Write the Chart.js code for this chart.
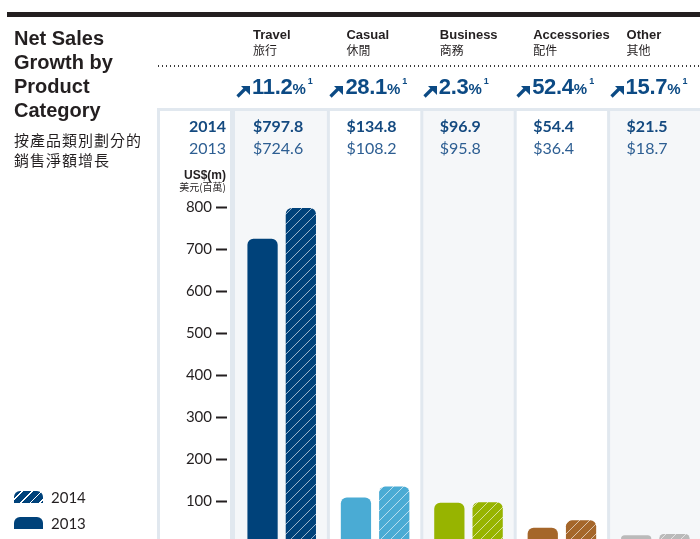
<!DOCTYPE html>
<html>
<head>
<meta charset="utf-8">
<script src="https://cdn.jsdelivr.net/npm/chart.js@4.4.1/dist/chart.umd.min.js"></script>
<style>
  html, body { margin: 0; padding: 0; background: #fff; overflow: hidden; }
  #wrap { position: relative; width: 700px; height: 539px; overflow: hidden; }
  #chart { position: absolute; left: 0; top: 0; }
  .t { position: absolute; white-space: nowrap; color: #231f20; }
  .title { left: 14px; top: 26px; font: bold 20px/24px "Liberation Sans", Arial, sans-serif; }
  .title-zh { left: 14px; top: 130px; font: 15px/20px "Noto Sans CJK TC", sans-serif; letter-spacing: 1px; }
  .topbar { position: absolute; left: 7px; top: 12px; width: 693px; height: 5px; background: #231f20; }
  .dots { position: absolute; left: 158px; top: 65px; width: 542px; height: 1.5px;
    background: repeating-linear-gradient(to right, #3a3a3a 0 1.5px, transparent 1.5px 4px); }
  .cat { font: bold 13px/13px "Liberation Sans", Arial, sans-serif; top: 28px; }
  .cat-zh { font: 12px/14px "Noto Sans CJK TC", sans-serif; top: 43px; }
  .growth { font: bold 22px/22px "Liberation Sans", Arial, sans-serif; top: 76px; color: #0c4a84; letter-spacing: -0.3px; }
  .growth .pc { font-size: 15px; letter-spacing: 0; }
  .growth .sup { font-size: 9px; position: relative; top: -10px; margin-left: 2px; }
  .arrow { position: absolute; top: 84px; }
  .v14 { font: bold 16px/16px Lato, sans-serif; top: 118px; color: #144a80; }
  .v13 { font: 16px/16px Lato, sans-serif; top: 140px; color: #2d5e92; }
  .unit { font: bold 12px/12px "Liberation Sans", Arial, sans-serif; top: 169px; }
  .unit-zh { font: 10px/12px "Noto Sans CJK TC", sans-serif; top: 181px; }
  .right { left: 0; width: 226px; text-align: right; }
  .sw { position: absolute; left: 14px; width: 29px; height: 12px; border-radius: 6px 6px 0 0; background: #00427a; }
  .sw.h { background: repeating-linear-gradient(135deg, #00427a 0 5.5px, rgba(255,255,255,0.8) 5.5px 6.8px); }
  .leg { left: 51px; font: 15px/16px Lato, sans-serif; }
</style>
</head>
<body>
<div id="wrap">
  <canvas id="chart" width="704" height="560"></canvas>
  <div class="topbar"></div>
  <div class="t title">Net Sales<br>Growth by<br>Product<br>Category</div>
  <div class="t title-zh">按產品類別劃分的<br>銷售淨額增長</div>
  <div class="dots"></div>
  <div class="t v14 right">2014</div>
  <div class="t v13 right">2013</div>
  <div class="t unit right">US$(m)</div>
  <div class="t unit-zh right">美元(百萬)</div>
  <div class="sw h" style="top:491px"></div>
  <div class="t leg" style="top:489px">2014</div>
  <div class="sw" style="top:517px"></div>
  <div class="t leg" style="top:515px">2013</div>
</div>
<script>
const categories = ['Travel', 'Casual', 'Business', 'Accessories', 'Other'];
const categoriesZh = ['旅行', '休閒', '商務', '配件', '其他'];
const sales2014 = [797.8, 134.8, 96.9, 54.4, 21.5];
const sales2013 = [724.6, 108.2, 95.8, 36.4, 18.7];
const growthPct = [11.2, 28.1, 2.3, 52.4, 15.7];
const yTicks = [100, 200, 300, 400, 500, 600, 700, 800];
const barColors = ['#00427a', '#4aabd4', '#97b400', '#a5662a', '#bababa'];

const lineColor = '#e1e8ef';
const paleBg = '#f5f7f9';

// motif hachuré pour 2014
function hatch(color) {
    const n = 10;
    const c = document.createElement('canvas');
    c.width = n; c.height = n;
    const g = c.getContext('2d');
    g.fillStyle = color;
    g.fillRect(0, 0, n, n);
    g.strokeStyle = 'rgba(255,255,255,0.6)';
    g.lineWidth = 1;
    g.beginPath();
    g.moveTo(-1, n + 1); g.lineTo(n + 1, -1);
    g.moveTo(-1, 1); g.lineTo(1, -1);
    g.moveTo(n - 1, n + 1); g.lineTo(n + 1, n - 1);
    g.stroke();
    return g.createPattern(c, 'repeat');
}

// fonds des colonnes et séparateurs
const panels = {
    id: 'panels',
    beforeDraw(chart) {
        const ctx = chart.ctx;
        ctx.save();
        ctx.fillStyle = lineColor;
        ctx.fillRect(157, 108, chart.width - 157, 3);
        ctx.fillRect(157, 108, 3, chart.height - 108);
        ctx.restore();
    },
    beforeDatasetsDraw(chart) {
        const ctx = chart.ctx;
        const x = chart.scales.x;
        const left = chart.chartArea.left;
        const slot = x.width / categories.length;
        const h = chart.height - 111;
        ctx.save();
        ctx.fillStyle = '#fff';
        ctx.fillRect(left - 8, 111, 3, h);
        ctx.fillStyle = lineColor;
        ctx.fillRect(left - 5, 111, 5, h);
        categories.forEach((c, i) => {
            const l = x.getPixelForValue(i) - slot / 2;
            ctx.fillStyle = i % 2 === 0 ? paleBg : '#fff';
            ctx.fillRect(l, 111, slot, h);
            if (i > 0) {
                ctx.fillStyle = lineColor;
                ctx.fillRect(l - 1.5, 111, 3, h);
            }
        });
        ctx.restore();
    }
};

const chart = new Chart(document.getElementById('chart'), {
    type: 'bar',
    data: {
        labels: categories,
        datasets: [{
            label: '2013',
            data: sales2013,
            backgroundColor: barColors,
            borderRadius: 6,
            borderSkipped: 'bottom',
            categoryPercentage: 0.82,
            barPercentage: 0.79
        }, {
            label: '2014',
            data: sales2014,
            backgroundColor: barColors.map(hatch),
            borderRadius: 6,
            borderSkipped: 'bottom',
            categoryPercentage: 0.82,
            barPercentage: 0.79
        }]
    },
    options: {
        responsive: false,
        animation: false,
        events: [],
        layout: { padding: { top: 207, bottom: 17, right: 2, left: 0 } },
        plugins: { legend: { display: false }, tooltip: { enabled: false } },
        scales: {
            x: { display: false },
            y: {
                min: 0,
                max: 800,
                afterFit: s => { s.width = 235; },
                afterBuildTicks: s => { s.ticks = [0].concat(yTicks).map(v => ({ value: v })); },
                border: { display: false },
                grid: { drawOnChartArea: false, drawTicks: true, tickLength: 19, tickWidth: 2, tickColor: '#231f20' },
                ticks: {
                    padding: 4,
                    color: '#231f20',
                    font: { family: 'Lato', size: 15 },
                    callback: v => v === 0 ? '' : v
                }
            }
        }
    },
    plugins: [panels]
});

// textes des colonnes, placés à partir de l'échelle x
const wrap = document.getElementById('wrap');
const xs = chart.scales.x;
const slotW = xs.width / categories.length;
const arrowSvg = '<svg width="14" height="12" viewBox="0 0 14 12"><polygon points="5,0 14,0 14,9" fill="#0c4a84"/><line x1="1.5" y1="10.5" x2="10" y2="2" stroke="#0c4a84" stroke-width="3.2"/></svg>';

function addText(cls, left, html) {
    const d = document.createElement('div');
    d.className = 't ' + cls;
    d.style.left = left + 'px';
    d.innerHTML = html;
    wrap.appendChild(d);
}

categories.forEach((cat, i) => {
    const colLeft = xs.getPixelForValue(i) - slotW / 2;
    addText('cat', colLeft + 18, cat);
    addText('cat-zh', colLeft + 18, categoriesZh[i]);
    const a = document.createElement('div');
    a.className = 'arrow';
    a.style.left = (colLeft + 1) + 'px';
    a.innerHTML = arrowSvg;
    wrap.appendChild(a);
    addText('growth', colLeft + 17, growthPct[i].toFixed(1) + '<span class="pc">%</span><span class="sup">1</span>');
    addText('v14', colLeft + 18, '$' + sales2014[i].toFixed(1));
    addText('v13', colLeft + 18, '$' + sales2013[i].toFixed(1));
});
</script>
</body>
</html>
